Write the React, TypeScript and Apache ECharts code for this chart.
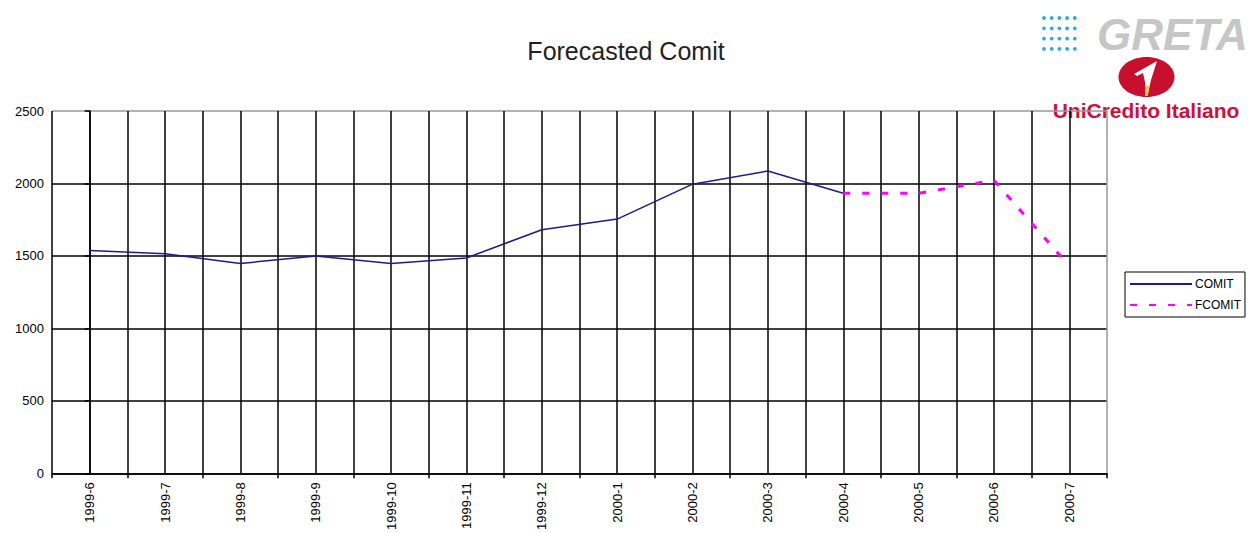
import React, { useEffect, useRef } from "react";
import * as echarts from "echarts";

const categories = [
  "1999-6", "1999-7", "1999-8", "1999-9", "1999-10", "1999-11", "1999-12",
  "2000-1", "2000-2", "2000-3", "2000-4", "2000-5", "2000-6", "2000-7",
];
const comit = [1538, 1515, 1448, 1500, 1448, 1486, 1681, 1754, 1995, 2086, 1932, null, null, null];
const fcomit = [null, null, null, null, null, null, null, null, null, null, 1932, 1932, 2022, 1429];
const yTicks = [0, 500, 1000, 1500, 2000, 2500];

const FONT = '"Liberation Sans", Arial, sans-serif';

export default function App() {
  const ref = useRef<HTMLDivElement>(null);
  useEffect(() => {
    if (!ref.current) return;
    const chart = echarts.init(ref.current, null, { renderer: "svg" });
    const n = categories.length;
    const halfLines = 2 * n + 1;
    const vColors = Array.from({ length: halfLines }, (_, i) => (i === halfLines - 1 ? "#9a9a9a" : "#000"));
    const hColors = yTicks.map((_, i) => (i === yTicks.length - 1 ? "#9a9a9a" : "#000"));

    const dots: any[] = [];
    for (let r = 0; r < 4; r++) {
      for (let c = 0; c < 5; c++) {
        dots.push({
          type: "circle",
          shape: { cx: 1044 + c * 7.7, cy: 18 + r * 10.3, r: 1.9 },
          style: { fill: "#2fa6ee" },
        });
      }
    }

    chart.setOption({
      animation: false,
      backgroundColor: "#fff",
      textStyle: { fontFamily: FONT },
      title: {
        text: "Forecasted Comit",
        left: "center",
        top: 33,
        textStyle: { fontFamily: FONT, fontSize: 25, fontWeight: "normal", color: "#222" },
      },
      grid: { left: 52, top: 111, right: 145, bottom: 57, containLabel: false },
      legend: {
        orient: "vertical",
        left: 1125,
        top: 272,
        padding: [6, 4, 6, 4],
        itemGap: 9,
        itemWidth: 62,
        itemHeight: 12,
        borderColor: "#000",
        borderWidth: 1,
        itemStyle: { opacity: 0 },
        textStyle: { fontFamily: FONT, fontSize: 12, color: "#000", padding: [0, 0, 0, -2] },
        data: ["COMIT", "FCOMIT"],
      },
      xAxis: [
        {
          type: "category",
          data: categories,
          boundaryGap: true,
          axisLine: { show: true, lineStyle: { color: "#000", width: 1.5 } },
          axisTick: { show: true, length: 5, lineStyle: { color: "#000", width: 1.5 } },
          axisLabel: {
            rotate: 90,
            interval: 0,
            margin: 9,
            fontFamily: FONT,
            fontSize: 13,
            color: "#000",
          },
          splitLine: { show: false },
        },
        {
          type: "value",
          position: "top",
          min: -0.5,
          max: n - 0.5,
          interval: 0.5,
          axisLine: { show: false },
          axisTick: { show: false },
          axisLabel: { show: false },
          splitLine: { show: true, lineStyle: { color: vColors, width: 1.5 } },
        },
      ],
      yAxis: {
        type: "value",
        min: 0,
        max: 2500,
        interval: 500,
        axisLine: { show: true, lineStyle: { color: "#000", width: 1.5 } },
        axisTick: { show: true, length: 5, lineStyle: { color: "#000", width: 1.5 } },
        axisLabel: {
          margin: 8,
          fontFamily: FONT,
          fontSize: 13,
          color: "#000",
          formatter: (v: number) => String(v),
        },
        splitLine: { show: true, lineStyle: { color: hColors, width: 1.5 } },
      },
      series: [
        {
          name: "COMIT",
          type: "line",
          xAxisIndex: 0,
          data: comit,
          symbol: "none",
          connectNulls: false,
          lineStyle: { color: "#1c1c8e", width: 1.5 },
          itemStyle: { color: "#1c1c8e" },
          z: 5,
        },
        {
          name: "FCOMIT",
          type: "line",
          xAxisIndex: 0,
          data: fcomit,
          symbol: "none",
          connectNulls: false,
          lineStyle: { color: "#ff00ff", width: 3, type: [7, 12] },
          itemStyle: { color: "#ff00ff" },
          z: 6,
        },
      ],
      graphic: [
        ...dots,
        {
          type: "text",
          x: 1097,
          y: 34,
          style: {
            text: "GRETA",
            fill: "#c6c6c6",
            font: `italic bold 44px ${FONT}`,
            textAlign: "left",
            textVerticalAlign: "middle",
          },
        },
        {
          type: "ellipse",
          shape: { cx: 1146.5, cy: 77, rx: 28, ry: 20 },
          style: { fill: "#c8102e" },
        },
        {
          type: "polygon",
          shape: {
            points: [
              [1134, 74], [1157, 61], [1151, 80], [1147.5, 96], [1145, 96],
              [1145, 82], [1143, 73], [1137, 76],
            ],
          },
          style: { fill: "#fff" },
        },
        {
          type: "polygon",
          shape: { points: [[1145, 86], [1149.5, 86], [1147.5, 96], [1145, 96]] },
          style: { fill: "#f6c060" },
        },
        {
          type: "text",
          x: 1146,
          y: 110,
          style: {
            text: "UniCredito Italiano",
            fill: "#d0103a",
            font: `bold 21px ${FONT}`,
            textAlign: "center",
            textVerticalAlign: "middle",
          },
        },
      ],
    });
    return () => chart.dispose();
  }, []);
  return (
    <div
      ref={ref}
      style={{ position: "fixed", left: 0, top: 0, width: 1252, height: 533, background: "#fff" }}
    />
  );
}
